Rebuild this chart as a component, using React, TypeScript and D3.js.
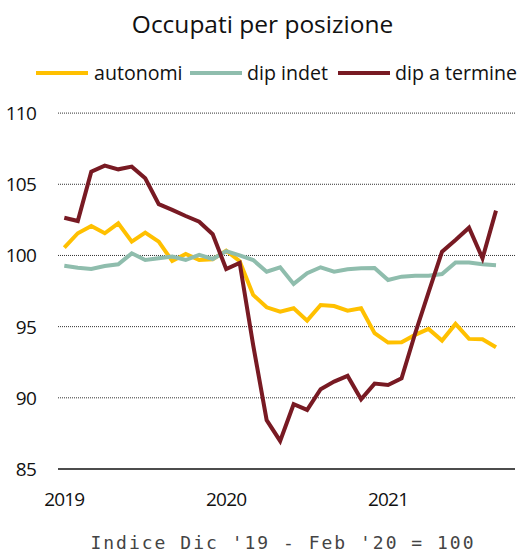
import React from "react";
import * as d3 from "d3";

const months: string[] = [
  "2019-01","2019-02","2019-03","2019-04","2019-05","2019-06","2019-07","2019-08","2019-09","2019-10","2019-11","2019-12",
  "2020-01","2020-02","2020-03","2020-04","2020-05","2020-06","2020-07","2020-08","2020-09","2020-10","2020-11","2020-12",
  "2021-01","2021-02","2021-03","2021-04","2021-05","2021-06","2021-07","2021-08","2021-09",
];

const autonomi: number[] = [
  100.55, 101.56, 102.07, 101.56, 102.26, 100.97, 101.6, 100.97, 99.61, 100.1, 99.68, 99.73,
  100.34, 99.6, 97.23, 96.36, 96.05, 96.29, 95.42, 96.52, 96.45, 96.12, 96.29, 94.54,
  93.88, 93.9, 94.42, 94.84, 94.02, 95.19, 94.14, 94.12, 93.55,
];

const dipIndet: number[] = [
  99.28, 99.14, 99.05, 99.26, 99.38, 100.15, 99.68, 99.8, 99.92, 99.68, 100.04, 99.75,
  100.3, 100.0, 99.68, 98.86, 99.17, 98.0, 98.75, 99.17, 98.86, 99.03, 99.1, 99.12,
  98.28, 98.51, 98.58, 98.58, 98.7, 99.5, 99.5, 99.38, 99.31,
];

const dipTermine: number[] = [
  102.65, 102.42, 105.88, 106.31, 106.05, 106.24, 105.42, 103.6, 103.2, 102.77, 102.37, 101.49,
  99.05, 99.48, 93.7, 88.43, 86.97, 89.55, 89.15, 90.6, 91.14, 91.54, 89.9, 91.0,
  90.9, 91.37, 94.5, 97.4, 100.27, 101.09, 101.95, 99.8, 103.15,
];

const yTicks: number[] = [85, 90, 95, 100, 105, 110];
const xTickIdx: number[] = [0, 12, 24];
const xTickLabels: string[] = ["2019", "2020", "2021"];

const seriesNames: string[] = ["autonomi", "dip indet", "dip a termine"];
const seriesColors: string[] = ["#FFC000", "#8FBDAD", "#781A23"];

const W = 518;
const H = 552;
const FONT = "'Open Sans', 'Noto Sans', sans-serif";

export default function App() {
  const x = d3.scaleLinear().domain([0, months.length - 1]).range([64.3, 496]);
  const y = d3.scaleLinear().domain([85, 110]).range([469, 113.1]);
  const gridX0 = 58;
  const gridX1 = 515;

  const line = d3
    .line<number>()
    .x((_, i) => x(i))
    .y((d) => y(d));

  const data = [autonomi, dipIndet, dipTermine];

  const legendItems = [
    { lx: 36, tx: 94 },
    { lx: 190, tx: 247 },
    { lx: 338, tx: 395 },
  ];

  return (
    <svg
      width={W}
      height={H}
      style={{ position: "absolute", left: 0, top: 0, background: "#fff" }}
    >
      <text x={262.5} y={33} textAnchor="middle" fontFamily={FONT} fontSize={24.5} fill="#111">
        Occupati per posizione
      </text>

      {legendItems.map((it, i) => (
        <g key={seriesNames[i]}>
          <line x1={it.lx} x2={it.lx + 52} y1={73} y2={73} stroke={seriesColors[i]} strokeWidth={4} />
          <text x={it.tx} y={80} fontFamily={FONT} fontSize={19.6} fill="#111">
            {seriesNames[i]}
          </text>
        </g>
      ))}

      {yTicks.map((t) =>
        t === 85 ? null : (
          <line
            key={"g" + t}
            x1={gridX0}
            x2={gridX1}
            y1={y(t)}
            y2={y(t)}
            stroke="#333"
            strokeWidth={1}
            strokeDasharray="1,1"
          />
        )
      )}
      <line x1={gridX0} x2={gridX1} y1={y(85)} y2={y(85)} stroke="#111" strokeWidth={1.5} />

      {yTicks.map((t) => (
        <text
          key={"yl" + t}
          x={36}
          y={y(t) + 7}
          textAnchor="end"
          fontFamily={FONT}
          fontSize={19}
          letterSpacing={-0.8}
          fill="#111"
        >
          {t}
        </text>
      ))}

      {xTickIdx.map((idx, i) => (
        <text
          key={"xl" + idx}
          x={x(idx)}
          y={506}
          textAnchor="middle"
          fontFamily={FONT}
          fontSize={19}
          letterSpacing={-0.8}
          fill="#111"
        >
          {xTickLabels[i]}
        </text>
      ))}

      {data.map((d, i) => (
        <path
          key={"s" + i}
          d={line(d) || ""}
          fill="none"
          stroke={seriesColors[i]}
          strokeWidth={4}
          strokeLinejoin="miter"
        />
      ))}

      <text
        x={283}
        y={549}
        textAnchor="middle"
        fontFamily="'DejaVu Sans Mono', monospace"
        fontSize={18}
        letterSpacing={2}
        fill="#444"
      >
        Indice Dic '19 - Feb '20 = 100
      </text>
    </svg>
  );
}
